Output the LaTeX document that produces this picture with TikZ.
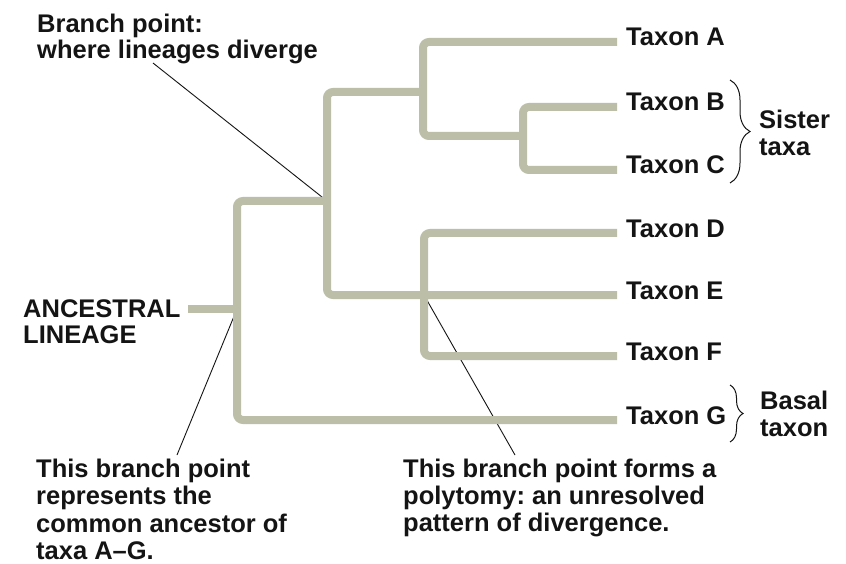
\documentclass[tikz,border=0pt]{standalone}
\usepackage{fontspec}
\setmainfont{Liberation Sans}
\usetikzlibrary{decorations.pathreplacing}
\definecolor{lineage}{RGB}{189,190,168}
\definecolor{ink}{RGB}{20,20,20}
\frenchspacing
\begin{document}
\begin{tikzpicture}[x=1pt,y=-1pt,
  branch/.style={draw=lineage, line width=8pt, rounded corners=6pt},
  pointer/.style={draw=ink, line width=0.9pt},
  taxon/.style={anchor=west, inner xsep=9pt, inner ysep=0pt,
    text height=18pt, text depth=10pt, text=ink,
    font=\bfseries\fontsize{25.5}{27}\selectfont},
  note/.style={anchor=north west, inner sep=0pt, align=left, text=ink,
    font=\bfseries\fontsize{25.5}{#1}\selectfont},
  bracket/.style={decorate, decoration={brace, amplitude=#1},
    draw=ink, line width=1pt}
]
\useasboundingbox (0,0) rectangle (846,564);
\fill[white] (0,0) rectangle (846,564);

% tips of the tree
\node[taxon] (A) at (617,42)  {Taxon A};
\node[taxon] (B) at (617,107) {Taxon B};
\node[taxon] (C) at (617,170) {Taxon C};
\node[taxon] (D) at (617,233) {Taxon D};
\node[taxon] (E) at (617,295) {Taxon E};
\node[taxon] (F) at (617,356) {Taxon F};
\node[taxon] (G) at (617,420) {Taxon G};

% branch points
\coordinate (anc)  at (188,309);
\coordinate (root) at (237,309);
\coordinate (n1)   at (327,201);
\coordinate (n2)   at (423,92);
\coordinate (n3)   at (523,136);
\coordinate (poly) at (424,295);

% free ends of the callout lines
\coordinate (tipTop)  at (153,63);
\coordinate (tipRoot) at (177,455);
\coordinate (tipPoly) at (515,455);

% callout lines (drawn first so the branches cover their ends)
\draw[pointer] (tipTop) -- (n1);
\draw[pointer] (tipRoot) -- (root);
\draw[pointer] (tipPoly) -- (poly);

% the tree
\draw[branch] (anc) -- (root);
\draw[branch] (n1) -| (root) |- (G.west);
\draw[branch] (n2) -| (n1) |- (E.west);
\draw[branch] (A.west) -| (n2) |- (n3);
\draw[branch] (B.west) -| (n3) |- (C.west);
\draw[branch] (D.west) -| (poly) |- (F.west);

% braces
\coordinate (sisTop) at (730,80);
\coordinate (sisBot) at (730,183);
\coordinate (basTop) at (730,385);
\coordinate (basBot) at (730,442);
\draw[bracket=20] (sisTop) -- (sisBot);
\draw[bracket=13] (basTop) -- (basBot);

% labels
\node[note=25.5] (lblTop) at (37,14) {Branch point:\\where lineages diverge};
\node[note=26] (lblAnc) at (23,299) {ANCESTRAL\\LINEAGE};
\node[note=27.3] (lblRoot) at (36,459) {This branch point\\represents the\\common ancestor of\\taxa A–G.};
\node[note=27] (lblPoly) at (403,459) {This branch point forms a\\polytomy: an unresolved\\pattern of divergence.};
\node[note=27] (lblSister) at (759,110) {Sister\\taxa};
\node[note=27] (lblBasal) at (760,391) {Basal\\taxon};
\end{tikzpicture}
\end{document}
